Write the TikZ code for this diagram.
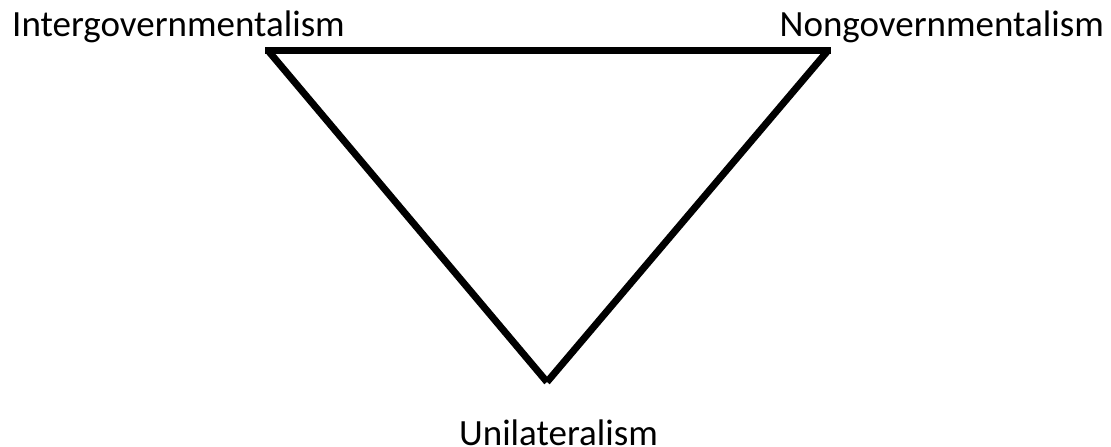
\documentclass[tikz,border=0pt]{standalone}
\usepackage{fontspec}
\setmainfont{Carlito}
\begin{document}
\begin{tikzpicture}[x=1pt,y=1pt,
  lbl/.style={inner sep=0pt,font=\fontsize{37}{44}\selectfont},
  edge/.style={line width=7pt,line cap=butt}]
\useasboundingbox (0,0) rectangle (1111,447);
\coordinate (tl) at (265,396.5);
\coordinate (tr) at (831,396.5);
\coordinate (b) at (547,65);
\draw[edge] (tl) -- (tr);
\draw[edge] (268,396.5) -- (b);
\draw[edge] (828,396.5) -- (b);
\node[lbl,anchor=base west] (ig) at (12,410.5) {Intergovernmentalism};
\node[lbl,anchor=base east] (ng) at (1104,410.5) {Nongovernmentalism};
\node[lbl,anchor=base] (un) at (558.5,1.5) {Unilateralism};
\end{tikzpicture}
\end{document}
